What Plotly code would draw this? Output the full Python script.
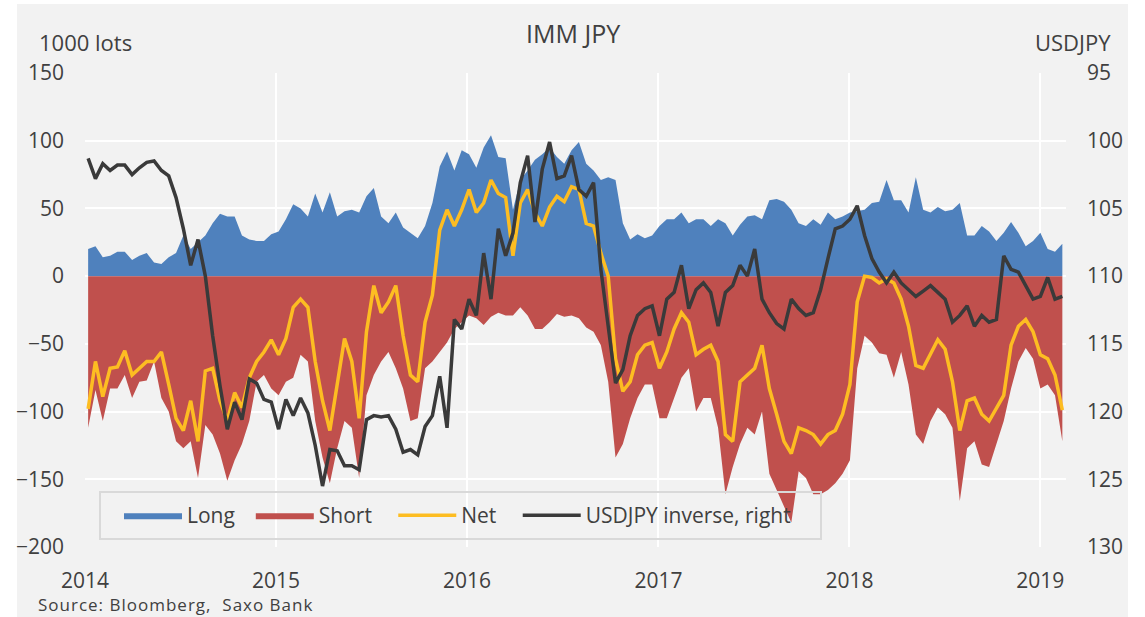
import pandas as pd
import plotly.graph_objects as go
from plotly.subplots import make_subplots

# ---- data (biweekly) ----
dates = pd.date_range(start="2014-01-07", periods=134, freq="14D")

long_pos = [20, 22, 14, 15, 18, 18, 12, 15, 17, 10, 9, 14, 17, 30, 20, 25, 30, 39, 46, 44, 44, 30, 27, 26, 26, 31, 33,
            42, 53, 50, 44, 61, 47, 62, 44, 48, 49, 47, 59, 65, 44, 39, 47, 36, 32, 28, 37, 54, 81, 92, 78, 93, 90,
            80, 95, 104, 88, 87, 49, 71, 78, 86, 90, 95, 88, 83, 93, 99, 83, 78, 71, 73, 71, 39, 27, 31, 28, 30, 37,
            42, 42, 47, 39, 42, 42, 37, 42, 39, 30, 38, 44, 45, 42, 56, 57, 55, 49, 39, 37, 42, 38, 47, 42, 44, 47,
            48, 49, 54, 55, 71, 56, 56, 47, 73, 49, 47, 51, 48, 49, 54, 30, 30, 37, 33, 26, 32, 40, 32, 22, 26, 32, 20, 18, 24]

short_pos = [-112, -84, -107, -83, -83, -73, -90, -78, -77, -63, -90, -100, -122, -127, -122, -149, -110, -117, -131, -151, -136, -124, -107, -78, -73, -83, -88,
             -78, -75, -58, -63, -107, -134, -153, -127, -107, -112, -149, -88, -73, -63, -56, -68, -83, -107, -105, -68, -63, -56, -49, -39, -34, -29,
             -31, -36, -30, -27, -29, -29, -23, -29, -39, -39, -34, -28, -30, -29, -31, -38, -41, -51, -78, -134, -124, -105, -90, -80, -80, -105,
             -105, -90, -75, -68, -100, -90, -90, -112, -161, -141, -124, -112, -117, -100, -146, -158, -170, -182, -144, -149, -161, -161, -158, -153, -146, -136,
             -68, -44, -49, -57, -58, -75, -56, -80, -117, -124, -107, -97, -102, -112, -166, -127, -122, -139, -141, -124, -107, -83, -63, -53, -61, -83, -80, -88, -122]

net_pos = [-98, -63, -89, -68, -67, -55, -73, -68, -63, -63, -56, -80, -105, -114, -92, -122, -70, -68, -92, -107, -86, -97, -75, -63, -56, -47, -58,
           -46, -23, -17, -23, -63, -92, -114, -80, -46, -63, -105, -41, -7, -27, -19, -7, -44, -73, -78, -34, -14, 34, 49, 37, 49, 64,
           47, 54, 71, 61, 58, 15, 54, 64, 47, 37, 51, 59, 55, 66, 64, 39, 37, 17, 0, -61, -85, -78, -58, -51, -49, -68,
           -56, -39, -27, -34, -58, -54, -51, -63, -117, -122, -78, -73, -68, -51, -83, -102, -122, -131, -112, -114, -117, -124, -117, -114, -102, -80,
           -19, 0, -1, -5, -2, -5, -17, -37, -66, -68, -58, -47, -54, -78, -114, -92, -90, -102, -107, -97, -88, -51, -37, -32, -41, -58, -61, -73, -99]

usdjpy = [101.3, 102.8, 101.7, 102.2, 101.8, 101.8, 102.5, 102.0, 101.6, 101.5, 102.2, 102.6, 104.2, 106.5, 109.2, 107.3, 110.0, 114.4, 118.1, 121.3, 119.3, 120.6, 117.6, 117.9, 119.1, 119.3, 121.3,
          119.1, 120.3, 119.0, 120.1, 122.5, 125.5, 122.8, 122.9, 124.0, 124.0, 124.3, 120.6, 120.3, 120.4, 120.3, 121.3, 123.0, 122.8, 123.2, 121.1, 120.3, 117.4, 121.2, 113.2, 113.9, 111.7,
          112.9, 108.3, 111.7, 106.5, 108.5, 106.8, 103.1, 101.1, 106.0, 102.1, 100.1, 102.8, 102.6, 101.1, 103.6, 104.1, 103.1, 109.5, 113.7, 117.9, 116.9, 114.4, 112.9, 112.4, 112.2, 114.4,
          111.7, 111.2, 109.2, 112.4, 111.0, 110.5, 111.2, 113.7, 111.2, 110.7, 109.2, 110.0, 108.0, 111.7, 112.7, 113.5, 113.9, 111.7, 112.4, 112.9, 112.7, 111.0, 108.7, 106.5, 106.3, 105.8,
          104.8, 107.0, 108.7, 109.7, 110.5, 109.7, 110.5, 111.0, 111.5, 111.1, 110.7, 111.2, 111.7, 113.4, 112.9, 112.2, 113.7, 112.9, 113.4, 113.2, 108.5, 109.5, 109.7, 110.7, 111.7, 111.5, 110.1, 111.7, 111.5]

series_names = ["Long", "Short", "Net", "USDJPY inverse, right"]
left_ticks = [-200, -150, -100, -50, 0, 50, 100, 150]
right_ticks = [95, 100, 105, 110, 115, 120, 125, 130]
year_ticks = ["2014-01-01", "2015-01-01", "2016-01-01", "2017-01-01", "2018-01-01", "2019-01-01"]
year_labels = ["2014", "2015", "2016", "2017", "2018", "2019"]

# ---- figure ----
TXT = "#404040"
FONT = "Open Sans"
NB = "\u00a0"
fig = make_subplots(specs=[[{"secondary_y": True}]])

fig.add_trace(go.Scatter(x=dates, y=long_pos, name=series_names[0] + NB * 2, mode="lines", fill="tozeroy",
                         line=dict(width=0, color="#4f81bd"), fillcolor="#4f81bd"), secondary_y=False)
fig.add_trace(go.Scatter(x=dates, y=short_pos, name=series_names[1] + NB * 3, mode="lines", fill="tozeroy",
                         line=dict(width=0, color="#c0504d"), fillcolor="#c0504d"), secondary_y=False)
fig.add_trace(go.Scatter(x=dates, y=net_pos, name=series_names[2] + NB * 3, mode="lines",
                         line=dict(width=3.5, color="#fdbd22")), secondary_y=False)
fig.add_trace(go.Scatter(x=dates, y=usdjpy, name=series_names[3], mode="lines",
                         line=dict(width=3.5, color="#3a3a3a")), secondary_y=True)

W, H = 1145, 617
ml, mr, mt, mb = 85, 79, 73, 70
pw, ph = W - ml - mr, H - mt - mb


def px(x):
    return (x - ml) / pw


def py(y):
    return (H - mb - y) / ph


fig.update_layout(
    width=W, height=H,
    margin=dict(l=ml, r=mr, t=mt, b=mb, pad=0, autoexpand=False),
    paper_bgcolor="white",
    plot_bgcolor="#f2f2f2",
    font=dict(family=FONT, color=TXT, size=20),
    showlegend=True,
    legend=dict(orientation="h", x=px(119), y=py(495), xanchor="left", yanchor="top",
                bgcolor="rgba(0,0,0,0)", borderwidth=0,
                font=dict(size=21, color=TXT, family=FONT),
                itemwidth=58, traceorder="normal"),
    shapes=[
        dict(type="rect", xref="paper", yref="paper", x0=px(17), x1=px(1128), y0=py(617), y1=py(4),
             fillcolor="#f2f2f2", line=dict(width=0), layer="below"),
        dict(type="rect", xref="paper", yref="paper", x0=px(100), x1=px(821), y0=py(539), y1=py(492),
             fillcolor="rgba(0,0,0,0)", line=dict(width=2, color="#d9d9d9"), layer="above"),
    ],
    annotations=[
        dict(text="IMM JPY", x=px(573), y=py(33), xref="paper", yref="paper", showarrow=False,
             xanchor="center", yanchor="middle", font=dict(size=25, color=TXT, family=FONT)),
        dict(text="1000 lots", x=px(37), y=py(42), xref="paper", yref="paper", showarrow=False,
             xanchor="left", yanchor="middle", font=dict(size=22, color=TXT, family=FONT)),
        dict(text="USDJPY", x=px(1113), y=py(42), xref="paper", yref="paper", showarrow=False,
             xanchor="right", yanchor="middle", font=dict(size=22, color=TXT, family=FONT)),
        dict(text='<span style="letter-spacing:1px">Source: Bloomberg,  Saxo Bank</span>',
             x=px(36), y=py(604), xref="paper", yref="paper", showarrow=False,
             xanchor="left", yanchor="middle", font=dict(size=17, color=TXT, family=FONT)),
    ],
)

fig.update_xaxes(type="date", range=["2014-01-01", "2019-02-19"], domain=[0, 1],
                 tickvals=year_ticks, ticktext=year_labels, automargin=False,
                 showgrid=True, gridcolor="white", gridwidth=2, zeroline=False,
                 showline=False, ticks="", ticklabelstandoff=19,
                 tickfont=dict(size=21, color=TXT, family=FONT))
fig.update_yaxes(range=[-200, 150], tickvals=left_ticks, showgrid=True, gridcolor="white", gridwidth=2,
                 zeroline=False, showline=False, ticks="", ticklabelstandoff=20, automargin=False,
                 tickfont=dict(size=21, color=TXT, family=FONT), secondary_y=False)
fig.update_yaxes(range=[130, 95], tickvals=right_ticks, showgrid=False, zeroline=False, showline=False,
                 ticks="", ticklabelstandoff=20, automargin=False,
                 tickfont=dict(size=21, color=TXT, family=FONT), secondary_y=True)

fig.write_html("out.html", config={"displayModeBar": False},
               post_script="document.body.style.margin='0';document.body.style.padding='0';")
